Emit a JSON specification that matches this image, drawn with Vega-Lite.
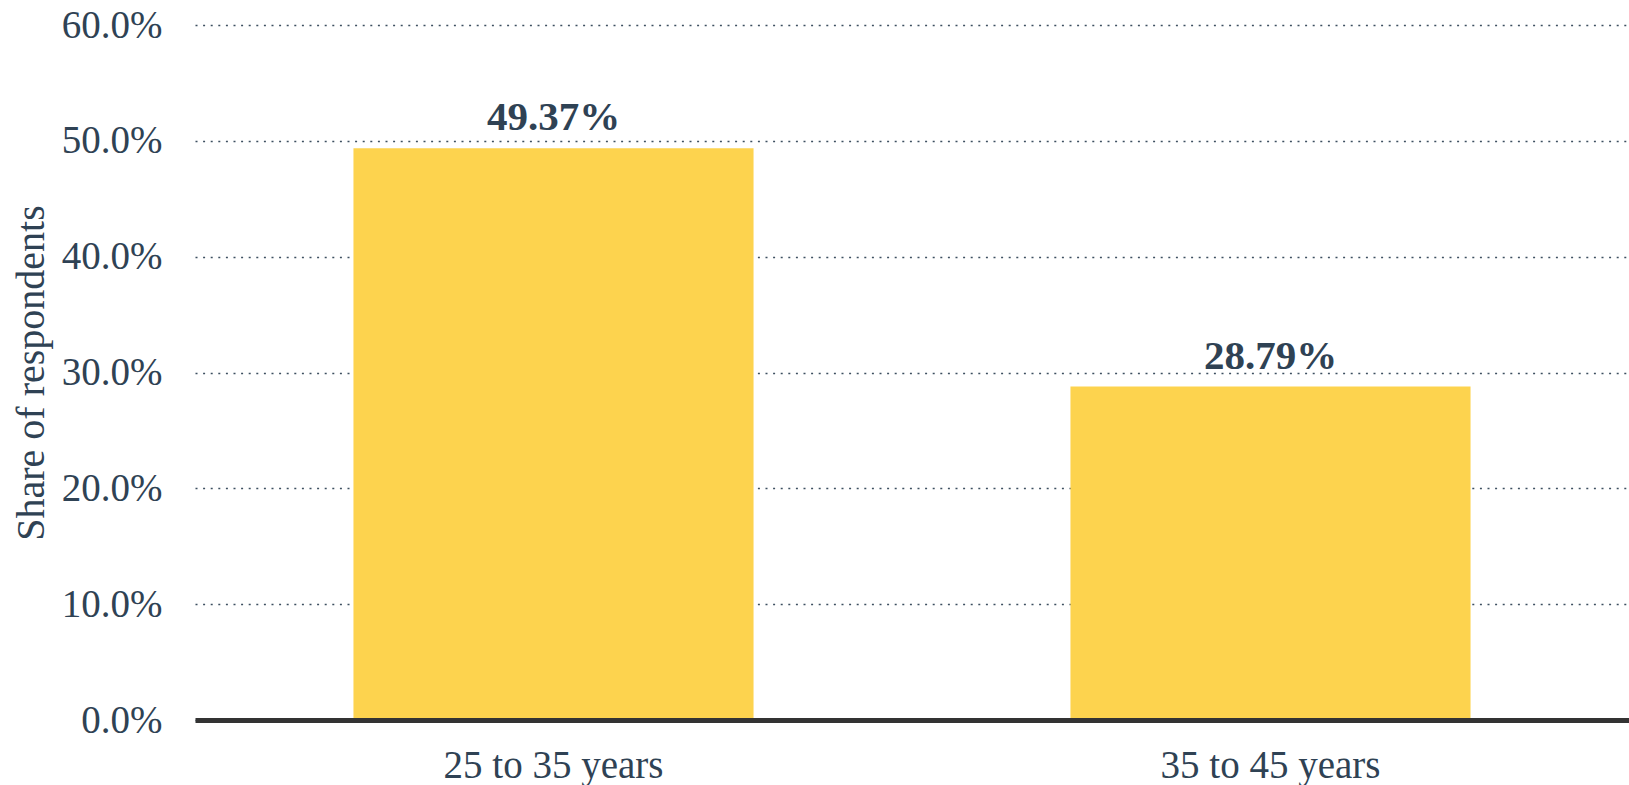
{
  "$schema": "https://vega.github.io/schema/vega-lite/v6.json",
  "autosize": "none",
  "width": 1434,
  "height": 695,
  "padding": {"left": 195, "top": 25, "right": 0, "bottom": 65},
  "background": "#ffffff",
  "config": {
    "view": {"stroke": null},
    "font": "Liberation Serif"
  },
  "data": {
    "values": [
      {"age": "25 to 35 years", "share": 0.4937},
      {"age": "35 to 45 years", "share": 0.2879}
    ]
  },
  "encoding": {
    "x": {
      "field": "age",
      "type": "nominal",
      "sort": null,
      "scale": {"paddingInner": 0.442, "paddingOuter": 0.221},
      "axis": {
        "title": null,
        "labelAngle": 0,
        "labelLimit": 0,
        "labelFont": "Liberation Serif",
        "labelFontSize": 39,
        "labelColor": "#2f4254",
        "labelBaseline": "alphabetic",
        "labelPadding": 57,
        "ticks": false,
        "domainColor": "#333333",
        "domainWidth": 5,
        "zindex": 1
      }
    },
    "y": {
      "field": "share",
      "type": "quantitative",
      "scale": {"domain": [0, 0.6], "nice": false},
      "axis": {
        "title": "Share of respondents",
        "titleFont": "Liberation Serif",
        "titleFontSize": 40,
        "titleFontWeight": "normal",
        "titleColor": "#2f4254",
        "titleBaseline": "alphabetic",
        "titleX": -152,
        "titleLimit": 0,
        "format": ".1%",
        "values": [0, 0.1, 0.2, 0.3, 0.4, 0.5, 0.6],
        "labelFont": "Liberation Serif",
        "labelFontSize": 39,
        "labelColor": "#2f4254",
        "labelPadding": 33,
        "ticks": false,
        "domain": false,
        "grid": true,
        "gridColor": "#3d4f60",
        "gridWidth": 1.5,
        "gridDash": [2, 5.6]
      }
    }
  },
  "layer": [
    {
      "mark": {"type": "bar", "color": "#fdd34e"}
    },
    {
      "mark": {
        "type": "text",
        "baseline": "alphabetic",
        "dy": -18,
        "font": "Liberation Serif",
        "fontSize": 41,
        "fontWeight": "bold",
        "color": "#2f4254"
      },
      "encoding": {
        "text": {"field": "share", "type": "quantitative", "format": ".2%"}
      }
    }
  ]
}
